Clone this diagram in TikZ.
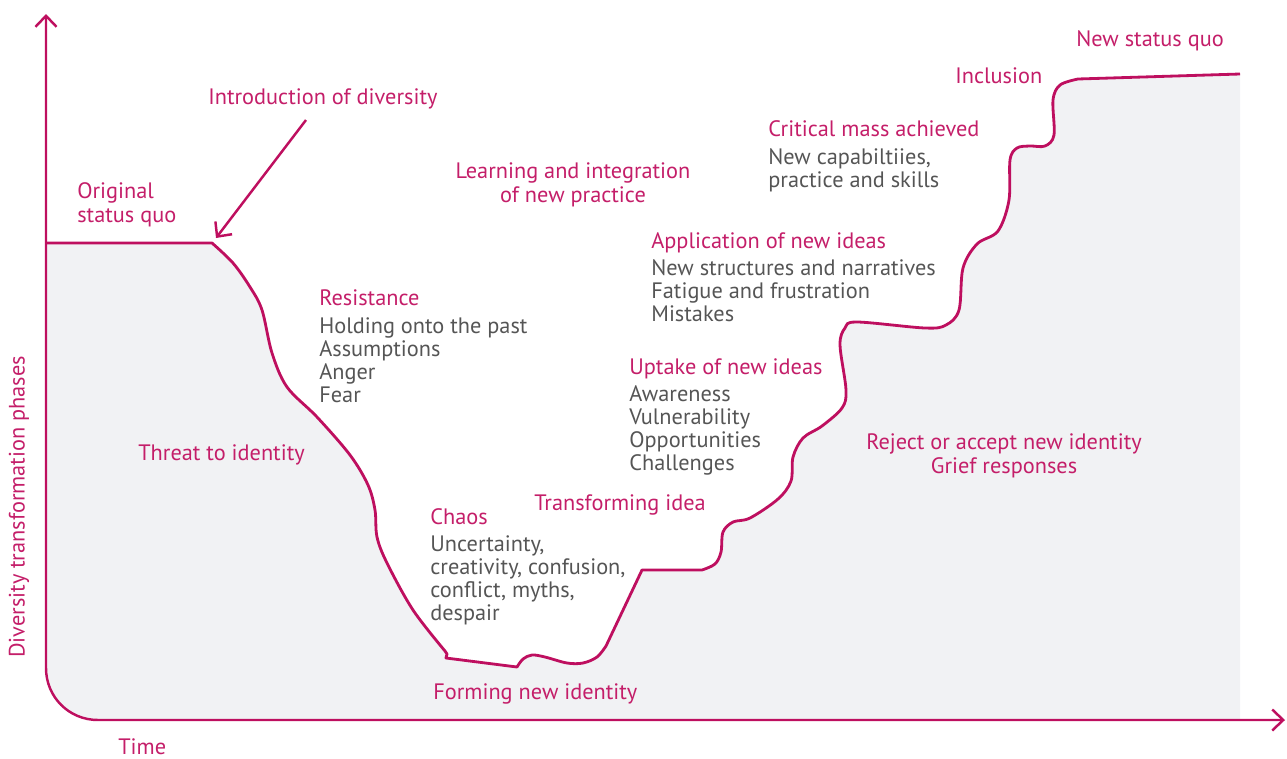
\documentclass[tikz,border=0pt]{standalone}
\usepackage{fontspec}
\setmainfont{PT Sans}
\usetikzlibrary{arrows.meta}
\usetikzlibrary{positioning}

\definecolor{phaseline}{RGB}{190,15,95}
\definecolor{phasetext}{RGB}{196,30,105}
\definecolor{notetext}{RGB}{85,85,85}
\definecolor{phasefill}{RGB}{241,242,244}

\newcommand{\phasefont}{\fontsize{12.7}{13.6}\selectfont}
\newcommand{\notefont}{\fontsize{12.7}{13.2}\selectfont}

% the phase curve, used for the fill and for the line
\newcommand{\phasecurve}{%
  (46,243) -- (212,243)
  -- plot[smooth,tension=0.55] coordinates {(212,243) (233,263) (250,287) (262,310) (272,353) (287,387) (317,417) (350,455) (368,485) (375,510) (377,537) (387,563) (413,610) (445,651)}
  -- (447,654) -- (446,658) -- (517,667)
  -- plot[smooth,tension=0.55] coordinates {(517,667) (523,659) (532,655) (545,657) (567,663) (583,663) (597,657) (606,646)}
  -- (642,570) -- (702,570)
  -- plot[smooth,tension=0.55] coordinates {(702,570) (715,564) (721,552) (723,532) (733,522) (750,518) (778,499) (791,481) (793,457) (803,438) (822,426) (842,408) (846,390) (840,345) (845,328) (857,322) (925,328) (946,325) (959,310) (963,268) (977,244) (998,231) (1009,200) (1010,160) (1017,148) (1030,146) (1045,146) (1054,135) (1053,100) (1060,85) (1078,79)}
  -- (1240,74)}

\begin{document}
\begin{tikzpicture}[x=0.02cm,y=-0.02cm,
  >={Straight Barb[length=0.22cm,width=0.42cm]},
  axis/.style={draw=phaseline,line width=1.4pt},
  curve/.style={draw=phaseline,line width=1.6pt,line join=round},
  phase/.style={text=phasetext,inner sep=0pt,font=\phasefont},
  note/.style={text=notetext,inner sep=0pt,align=left,font=\notefont}]
 \useasboundingbox (0,0) rectangle (1287,758);

 % shaded area under the curve
 \fill[phasefill] \phasecurve -- (1240,720) -- (98,720) .. controls (69,720) and (46,697) .. (46,668) -- cycle;

 % axes
 \draw[axis,<->] (46,14) -- (46,668) .. controls (46,697) and (69,720) .. (98,720) -- (1285,720);
 \draw[curve] \phasecurve;

 % arrow to the start of the drop
 \coordinate (divtail) at (306,120);
 \coordinate (divtip) at (216,238);
 \draw[axis,->] (divtail) -- (divtip);

 \node[phase,rotate=90] (ylabel) at (19,507) {Diversity transformation phases};
 \node[phase,anchor=base west] (time) at (118,754) {Time};

 \node[phase,anchor=base west] (intro) at (208,104) {Introduction of diversity};
 \node[phase,anchor=north west,align=left] (orig) at (77,182) {Original\\status quo};
 \node[phase,anchor=base west] (threat) at (138,460) {Threat to identity};

 \node[phase,anchor=base west] (resist) at (319,305) {Resistance};
 \node[note,anchor=north west] (resist-b) at (319,317) {Holding onto the past\\Assumptions\\Anger\\Fear};

 \node[phase,anchor=base west] (chaos) at (430,524) {Chaos};
 \node[note,anchor=north west] (chaos-b) at (430,535) {Uncertainty,\\creativity, confusion,\\conflict, myths,\\despair};

 \node[phase,anchor=base west] (forming) at (433,699) {Forming new identity};
 \node[phase,anchor=base west] (transf) at (534,510) {Transforming idea};

 \node[phase,anchor=north,align=center] (learn) at (573,162) {Learning and integration\\of new practice};

 \node[phase,anchor=base west] (apply) at (651,248) {Application of new ideas};
 \node[note,anchor=north west] (apply-b) at (651,259) {New structures and narratives\\Fatigue and frustration\\Mistakes};

 \node[phase,anchor=base west] (uptake) at (629,374) {Uptake of new ideas};
 \node[note,anchor=north west] (uptake-b) at (629,385) {Awareness\\Vulnerability\\Opportunities\\Challenges};

 \node[phase,anchor=base west] (critical) at (768,136) {Critical mass achieved};
 \node[note,anchor=north west] (critical-b) at (768,148) {New capabiltiies,\\practice and skills};

 \node[phase,anchor=base west] (incl) at (955,83) {Inclusion};
 \node[phase,anchor=base west] (newsq) at (1076,46) {New status quo};

 \node[phase,anchor=north,align=center] (reject) at (1004,433) {Reject or accept new identity\\Grief responses};
\end{tikzpicture}
\end{document}
